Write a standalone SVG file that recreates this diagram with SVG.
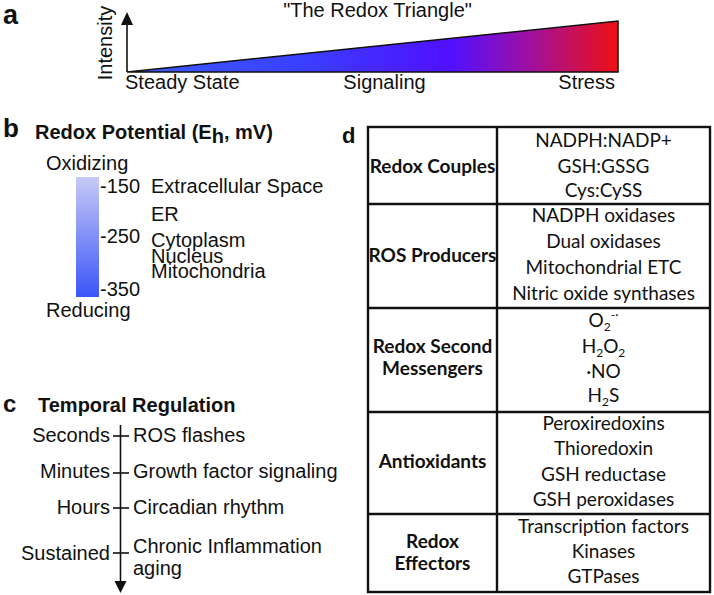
<svg xmlns="http://www.w3.org/2000/svg" width="714" height="595" viewBox="0 0 714 595">
<style>
.t{font-family:"Liberation Sans",Arial,sans-serif;font-size:20px;fill:#111}
.b{font-family:"Liberation Sans",Arial,sans-serif;font-weight:bold;fill:#111}
.c{font-family:Lato,"Open Sans",sans-serif;font-size:19px;fill:#111;text-anchor:middle}
.cb{font-family:Lato,"Open Sans",sans-serif;font-size:19px;font-weight:bold;fill:#111;text-anchor:middle}
.ln{stroke:#111;stroke-width:1.6;fill:none}
.tb{stroke:#111;stroke-width:2.4;fill:none}
.e{text-anchor:end}
.m{text-anchor:middle}
</style>
<defs>
<linearGradient id="tri" x1="127" y1="0" x2="618" y2="0" gradientUnits="userSpaceOnUse">
<stop offset="0" stop-color="#3c5cff"/>
<stop offset="0.35" stop-color="#3a40ff"/>
<stop offset="0.66" stop-color="#5010ff"/>
<stop offset="0.82" stop-color="#a010a0"/>
<stop offset="1" stop-color="#ee1010"/>
</linearGradient>
<linearGradient id="bar" x1="0" y1="0" x2="0" y2="1">
<stop offset="0" stop-color="#c8caf6"/>
<stop offset="1" stop-color="#3a55f8"/>
</linearGradient>
</defs>

<g id="panel-a">
<text class="b" x="3" y="24" font-size="27">a</text>
<text class="t m" x="377.5" y="17">"The Redox Triangle"</text>
<polygon points="127,72 618,72 618,21" fill="url(#tri)" stroke="#111" stroke-width="1.5"/>
<line class="ln" x1="127" y1="72" x2="127" y2="24"/>
<polygon points="121,25 133,25 127,12" fill="#111"/>
<text class="t m" transform="translate(112,43) rotate(-90)">Intensity</text>
<text class="t" x="125" y="89">Steady State</text>
<text class="t m" x="384.5" y="89">Signaling</text>
<text class="t e" x="615" y="89">Stress</text>
</g>

<g id="panel-b">
<text class="b" x="3" y="137" font-size="26">b</text>
<text class="b" x="35" y="139" font-size="20">Redox Potential (E<tspan dy="4">h</tspan><tspan dy="-4">, mV)</tspan></text>
<text class="t" x="46" y="170">Oxidizing</text>
<rect x="76" y="177" width="23" height="120" fill="url(#bar)"/>
<text class="t" x="100" y="193">-150</text>
<text class="t" x="100" y="243">-250</text>
<text class="t" x="100" y="296">-350</text>
<text class="t" x="151" y="193">Extracellular Space</text>
<text class="t" x="151" y="221">ER</text>
<text class="t" x="151" y="247">Cytoplasm</text>
<text class="t" x="151" y="263">Nucleus</text>
<text class="t" x="151" y="278">Mitochondria</text>
<text class="t" x="46" y="317">Reducing</text>
</g>

<g id="panel-c">
<text class="b" x="3" y="412" font-size="24">c</text>
<text class="b" x="38" y="412" font-size="20">Temporal Regulation</text>
<g id="axis-c">
<line class="ln" x1="120.5" y1="425" x2="120.5" y2="582"/>
<polygon points="114.5,581 126.5,581 120.5,593" fill="#111"/>
<line class="ln" x1="113" y1="436" x2="129" y2="436"/>
<line class="ln" x1="113" y1="473" x2="129" y2="473"/>
<line class="ln" x1="113" y1="508" x2="129" y2="508"/>
<line class="ln" x1="113" y1="553" x2="129" y2="553"/>
</g>
<text class="t e" x="110" y="442">Seconds</text>
<text class="t e" x="110" y="478">Minutes</text>
<text class="t e" x="110" y="514">Hours</text>
<text class="t e" x="110" y="560">Sustained</text>
<text class="t" x="133" y="442">ROS flashes</text>
<text class="t" x="133" y="478">Growth factor signaling</text>
<text class="t" x="133" y="514">Circadian rhythm</text>
<text class="t" x="133" y="553">Chronic Inflammation</text>
<text class="t" x="133" y="575">aging</text>
</g>

<g id="panel-d">
<text class="b" x="342" y="143" font-size="22">d</text>
<g id="table-grid">
<rect class="tb" x="368" y="127" width="342" height="465"/>
<line class="tb" x1="497" y1="127" x2="497" y2="592"/>
<line class="tb" x1="368" y1="204" x2="710" y2="204"/>
<line class="tb" x1="368" y1="308" x2="710" y2="308"/>
<line class="tb" x1="368" y1="412" x2="710" y2="412"/>
<line class="tb" x1="368" y1="514" x2="710" y2="514"/>
</g>
<g id="row-couples">
<text class="cb" x="432.5" y="173">Redox Couples</text>
<text class="c" x="603.5" y="147">NADPH:NADP+</text>
<text class="c" x="603.5" y="173">GSH:GSSG</text>
<text class="c" x="603.5" y="197">Cys:CySS</text>
</g>
<g id="row-producers">
<text class="cb" x="432.5" y="262">ROS Producers</text>
<text class="c" x="603.5" y="222">NADPH oxidases</text>
<text class="c" x="603.5" y="248">Dual oxidases</text>
<text class="c" x="603.5" y="274">Mitochondrial ETC</text>
<text class="c" x="603.5" y="300">Nitric oxide synthases</text>
</g>
<g id="row-messengers">
<text class="cb" x="432.5" y="353">Redox Second</text>
<text class="cb" x="432.5" y="375">Messengers</text>
<text class="c" x="603.5" y="327">O<tspan font-size="12" dy="4">2</tspan><tspan font-size="12" dy="-12">-·</tspan></text>
<text class="c" x="603.5" y="353">H<tspan font-size="12" dy="4">2</tspan><tspan dy="-4">O</tspan><tspan font-size="12" dy="4">2</tspan></text>
<text class="c" x="603.5" y="378">·NO</text>
<text class="c" x="603.5" y="402">H<tspan font-size="12" dy="4">2</tspan><tspan dy="-4">S</tspan></text>
</g>
<g id="row-antioxidants">
<text class="cb" x="432.5" y="468">Antioxidants</text>
<text class="c" x="603.5" y="430">Peroxiredoxins</text>
<text class="c" x="603.5" y="455">Thioredoxin</text>
<text class="c" x="603.5" y="481">GSH reductase</text>
<text class="c" x="603.5" y="506">GSH peroxidases</text>
</g>
<g id="row-effectors">
<text class="cb" x="432.5" y="548">Redox</text>
<text class="cb" x="432.5" y="570">Effectors</text>
<text class="c" x="603.5" y="533">Transcription factors</text>
<text class="c" x="603.5" y="558">Kinases</text>
<text class="c" x="603.5" y="583">GTPases</text>
</g>
</g>
</svg>
